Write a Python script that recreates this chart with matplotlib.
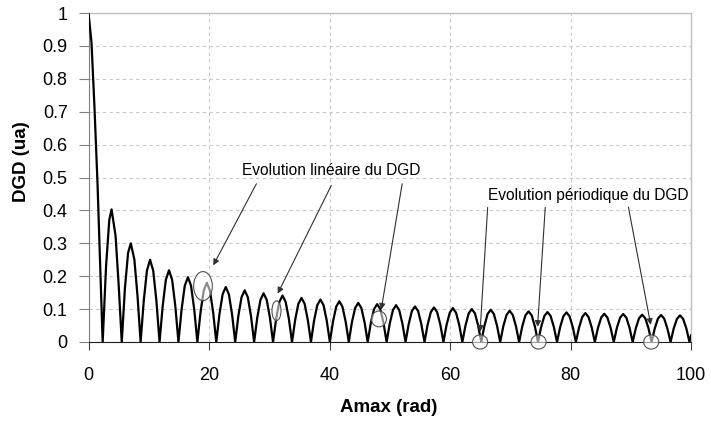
import matplotlib
matplotlib.use("Agg")
import matplotlib.pyplot as plt
from matplotlib.patches import Ellipse

plt.rcParams['font.family'] = ['Liberation Sans', 'DejaVu Sans']

# DGD vs Amax (lobes between zeros)
amax = [0.0, 0.5, 1.0, 1.5, 2.0,
        2.35, 2.92, 3.45, 3.83, 4.49, 5.02,
        5.52, 6.04, 6.57, 7.02, 7.61, 8.14,
        8.65, 9.17, 9.70, 10.22, 10.74, 11.27,
        11.79, 12.31, 12.84, 13.36, 13.88, 14.41,
        14.93, 15.45, 15.98, 16.50, 17.02, 17.55,
        18.07, 18.59, 19.12, 19.64, 20.16, 20.69,
        21.21, 21.73, 22.26, 22.78, 23.30, 23.83,
        24.35, 24.87, 25.40, 25.92, 26.44, 26.97,
        27.49, 28.01, 28.54, 29.06, 29.58, 30.11,
        30.63, 31.15, 31.68, 32.20, 32.72, 33.25,
        33.78, 34.30, 34.83, 35.35, 35.87, 36.40,
        36.92, 37.44, 37.97, 38.49, 39.01, 39.54,
        40.06, 40.58, 41.11, 41.63, 42.15, 42.68,
        43.20, 43.72, 44.25, 44.77, 45.29, 45.82,
        46.34, 46.86, 47.39, 47.91, 48.43, 48.96,
        49.48, 50.00, 50.53, 51.05, 51.57, 52.10,
        52.62, 53.14, 53.67, 54.19, 54.71, 55.24,
        55.77, 56.29, 56.82, 57.34, 57.86, 58.39,
        58.91, 59.43, 59.96, 60.48, 61.00, 61.53,
        62.05, 62.57, 63.10, 63.62, 64.14, 64.67,
        65.19, 65.71, 66.24, 66.76, 67.28, 67.81,
        68.33, 68.85, 69.38, 69.90, 70.42, 70.95,
        71.47, 71.99, 72.52, 73.04, 73.56, 74.09,
        74.61, 75.13, 75.66, 76.18, 76.70, 77.23,
        77.76, 78.28, 78.81, 79.33, 79.85, 80.38,
        80.90, 81.42, 81.95, 82.47, 82.99, 83.52,
        84.04, 84.56, 85.09, 85.61, 86.13, 86.66,
        87.18, 87.70, 88.23, 88.75, 89.27, 89.80,
        90.32, 90.84, 91.37, 91.89, 92.41, 92.94,
        93.46, 93.98, 94.51, 95.03, 95.55, 96.08,
        96.61, 97.13, 97.66, 98.18, 98.70, 99.23,
        99.75, 100.0]

dgd = [1.0, 0.91, 0.71, 0.48, 0.20,
       0.0, 0.232, 0.371, 0.403, 0.323, 0.170,
       0.0, 0.162, 0.271, 0.300, 0.251, 0.139,
       0.0, 0.125, 0.217, 0.250, 0.217, 0.125,
       0.0, 0.109, 0.189, 0.218, 0.189, 0.109,
       0.0, 0.099, 0.171, 0.197, 0.171, 0.099,
       0.0, 0.090, 0.156, 0.180, 0.156, 0.090,
       0.0, 0.084, 0.145, 0.167, 0.145, 0.084,
       0.0, 0.079, 0.136, 0.157, 0.136, 0.079,
       0.0, 0.074, 0.128, 0.148, 0.128, 0.074,
       0.0, 0.071, 0.122, 0.141, 0.122, 0.071,
       0.0, 0.067, 0.116, 0.134, 0.116, 0.067,
       0.0, 0.065, 0.112, 0.129, 0.112, 0.065,
       0.0, 0.062, 0.107, 0.124, 0.107, 0.062,
       0.0, 0.060, 0.103, 0.119, 0.103, 0.060,
       0.0, 0.058, 0.100, 0.115, 0.100, 0.058,
       0.0, 0.056, 0.097, 0.112, 0.097, 0.056,
       0.0, 0.054, 0.094, 0.108, 0.094, 0.054,
       0.0, 0.053, 0.091, 0.105, 0.091, 0.053,
       0.0, 0.052, 0.089, 0.103, 0.089, 0.052,
       0.0, 0.050, 0.087, 0.100, 0.087, 0.050,
       0.0, 0.049, 0.085, 0.098, 0.085, 0.049,
       0.0, 0.048, 0.082, 0.095, 0.082, 0.048,
       0.0, 0.047, 0.081, 0.093, 0.081, 0.047,
       0.0, 0.046, 0.079, 0.091, 0.079, 0.046,
       0.0, 0.045, 0.078, 0.090, 0.078, 0.045,
       0.0, 0.044, 0.076, 0.088, 0.076, 0.044,
       0.0, 0.043, 0.074, 0.086, 0.074, 0.043,
       0.0, 0.043, 0.074, 0.085, 0.074, 0.043,
       0.0, 0.042, 0.072, 0.083, 0.072, 0.042,
       0.0, 0.041, 0.071, 0.082, 0.071, 0.041,
       0.0, 0.041, 0.070, 0.081, 0.070, 0.041,
       0.0, 0.020]

x_ticks = [0, 20, 40, 60, 80, 100]
y_ticks = [0, 0.1, 0.2, 0.3, 0.4, 0.5, 0.6, 0.7, 0.8, 0.9, 1.0]
y_labels = ['0', '0.1', '0.2', '0.3', '0.4', '0.5', '0.6', '0.7', '0.8', '0.9', '1']

# circled regions (centre x, centre y, width, height) in data units
lin_circles = [(19.0, 0.170, 3.1, 0.088), (31.2, 0.095, 1.5, 0.060), (48.2, 0.070, 2.5, 0.048)]
per_circles = [(65.0, 0.0, 2.5, 0.043), (74.7, 0.0, 2.5, 0.043), (93.4, 0.0, 2.5, 0.043)]

fig = plt.figure(figsize=(7.11, 4.21), dpi=100)
ax = fig.add_axes([88.5 / 711, 1 - 342 / 421, 602.5 / 711, 329 / 421])

ax.plot(amax, dgd, color='black', lw=1.6, zorder=3)

ax.set_xlim(0, 100)
ax.set_ylim(0, 1)
ax.set_xticks(x_ticks)
ax.set_yticks(y_ticks)
ax.set_yticklabels(y_labels)
ax.tick_params(axis='y', length=7, width=0.8, pad=8, labelsize=13, color='#808080')
ax.tick_params(axis='x', length=6, width=0.8, pad=12, labelsize=13, color='#404040')

ax.grid(True, color='#c8c8c8', lw=0.8, ls=(0, (3, 3)))
ax.set_axisbelow(True)
for side in ['top', 'right']:
    ax.spines[side].set_color('#c0c0c0')
    ax.spines[side].set_linewidth(1.0)
ax.spines['left'].set_color('#808080')
ax.spines['bottom'].set_color('#202020')

for (cx, cy, w, h) in lin_circles + per_circles:
    ax.add_patch(Ellipse((cx, cy), w, h, fc=(1, 1, 1, 0.55), ec='#505050',
                         lw=0.8, clip_on=False, zorder=4))

arrow = dict(arrowstyle='-|>', color='#303030', lw=0.8, mutation_scale=9,
             shrinkA=0, shrinkB=0)
ax.text(40.35, 0.521, 'Evolution linéaire du DGD', fontsize=11.2,
        ha='center', va='center', zorder=5)
for tail, head in [((27.87, 0.481), (20.71, 0.233)),
                   ((40.30, 0.476), (31.40, 0.147)),
                   ((52.06, 0.481), (48.58, 0.098))]:
    ax.annotate('', xy=head, xytext=tail, arrowprops=arrow, zorder=5)

ax.text(82.93, 0.445, 'Evolution périodique du DGD', fontsize=11.2,
        ha='center', va='center', zorder=5)
for tail, head in [((66.25, 0.409), (64.99, 0.031)),
                   ((75.81, 0.409), (74.53, 0.046)),
                   ((89.61, 0.410), (93.32, 0.052))]:
    ax.annotate('', xy=head, xytext=tail, arrowprops=arrow, zorder=5)

fig.text(389 / 711, 1 - 407 / 421, 'Amax (rad)', fontsize=13.5, fontweight='bold',
         ha='center', va='center')
fig.text(22 / 711, 1 - 162 / 421, 'DGD (ua)', fontsize=13.5, fontweight='bold',
         rotation=90, ha='center', va='center')

fig.savefig('out.png', dpi=100)
